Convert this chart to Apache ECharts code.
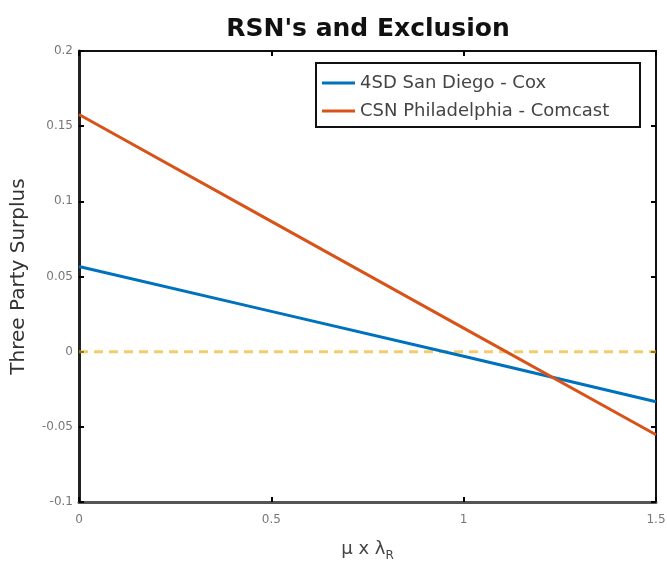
<!DOCTYPE html>
<html>
<head>
<meta charset="utf-8">
<script src="https://cdn.jsdelivr.net/npm/echarts@6/dist/echarts.min.js"></script>
<style>html,body{margin:0;padding:0;background:#fff}#c{width:667px;height:563px}</style>
</head>
<body>
<div id="c"></div>
<script>
const xValues = [0, 0.5, 1, 1.5];
const sanDiegoCox = [0.0566, 0.0268, -0.0030, -0.0333];
const philadelphiaComcast = [0.1578, 0.0867, 0.0157, -0.0553];
const zeroLine = [0, 0, 0, 0];
const seriesNames = ['4SD San Diego - Cox', 'CSN Philadelphia - Comcast'];

const chart = echarts.init(document.getElementById('c'));
const pairs = arr => xValues.map((x, i) => [x, arr[i]]);
const font = 'DejaVu Sans, Arial, sans-serif';
const hiddenAxis = {
  axisLine: {show: false, onZero: false},
  axisLabel: {show: false},
  splitLine: {show: false},
  axisTick: {show: true, inside: true, length: 5, lineStyle: {color: '#000', width: 2}}
};
chart.setOption({
  animation: false,
  backgroundColor: '#fff',
  title: {
    text: "RSN's and Exclusion",
    left: 363, top: 12, textAlign: 'center',
    textStyle: {fontFamily: font, fontSize: 25, fontWeight: 'bold', color: '#111'}
  },
  legend: {
    data: seriesNames,
    right: 27, top: 63,
    orient: 'vertical',
    backgroundColor: '#fff',
    borderColor: '#111', borderWidth: 2,
    padding: [10, 8, 6, 6],
    itemGap: 8,
    itemWidth: 33, itemHeight: 3,
    icon: 'rect',
    textStyle: {fontFamily: font, fontSize: 18, lineHeight: 20, color: '#444', width: 272}
  },
  grid: {left: 79, right: 11, top: 51, bottom: 61, show: true, borderColor: '#111', borderWidth: 2,
    backgroundColor: 'transparent', containLabel: false, outerBoundsMode: 'none'},
  xAxis: [{
    type: 'value', min: 0, max: 1.5, interval: 0.5,
    name: '{m|μ x λ}{s|R}', nameLocation: 'middle', nameGap: 35,
    nameTextStyle: {rich: {
      m: {fontFamily: font, fontSize: 18, color: '#444'},
      s: {fontFamily: font, fontSize: 12, color: '#444', verticalAlign: 'bottom', padding: [13, 0, 0, 0]}
    }},
    axisLine: {show: true, onZero: false, lineStyle: {color: '#555', width: 3}},
    axisTick: {show: true, inside: true, length: 5, lineStyle: {color: '#000', width: 2}},
    axisLabel: {fontFamily: font, fontSize: 12, color: '#777', margin: 12},
    splitLine: {show: false}
  }, Object.assign({type: 'value', min: 0, max: 1.5, interval: 0.5, position: 'top'}, hiddenAxis)],
  yAxis: [{
    type: 'value', min: -0.1, max: 0.2, interval: 0.05,
    name: 'Three Party Surplus', nameLocation: 'middle', nameGap: 50,
    nameTextStyle: {fontFamily: font, fontSize: 20, color: '#333'},
    axisLine: {show: true, onZero: false, lineStyle: {color: '#222', width: 3}},
    axisTick: {show: true, inside: true, length: 5, lineStyle: {color: '#000', width: 2}},
    axisLabel: {fontFamily: font, fontSize: 12, color: '#777', margin: 6,
      formatter: v => String(Math.round(v * 100) / 100)},
    splitLine: {show: false}
  }, Object.assign({type: 'value', min: -0.1, max: 0.2, interval: 0.05, position: 'right'}, hiddenAxis)],
  series: [
    {name: seriesNames[0], type: 'line', data: pairs(sanDiegoCox), symbol: 'none',
      lineStyle: {color: '#0072BD', width: 3}, itemStyle: {color: '#0072BD'}, z: 3},
    {name: seriesNames[1], type: 'line', data: pairs(philadelphiaComcast), symbol: 'none',
      lineStyle: {color: '#D95319', width: 3}, itemStyle: {color: '#D95319'}, z: 4},
    {name: 'zero', type: 'line', data: pairs(zeroLine), symbol: 'none',
      lineStyle: {color: '#EDB120', width: 3, opacity: 0.65, type: [9, 6]}, z: 2}
  ]
});
</script>
</body>
</html>
